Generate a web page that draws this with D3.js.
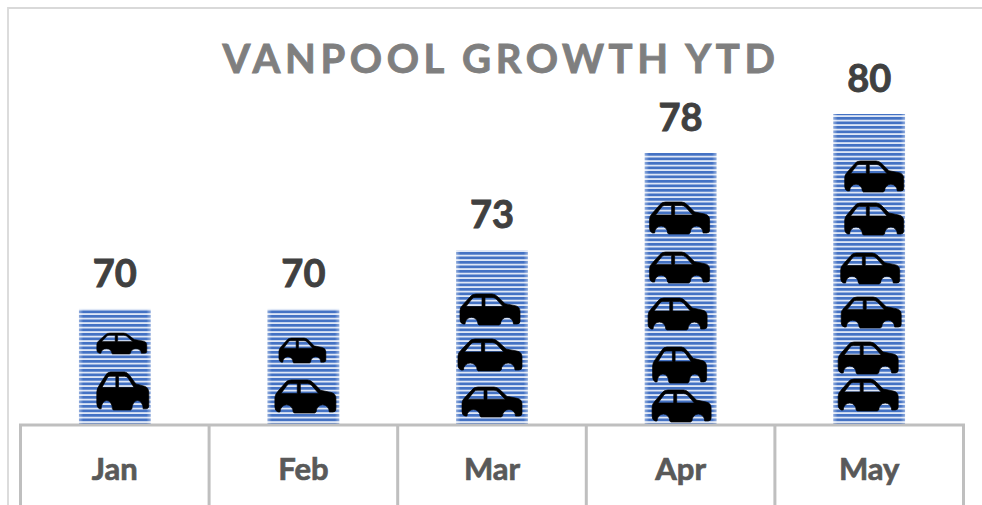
<!DOCTYPE html>
<html>
<head>
<meta charset="utf-8">
<script src="https://cdn.jsdelivr.net/npm/d3@7"></script>
<style>
    html, body { margin: 0; padding: 0; background: #fff; overflow: hidden; }
    text { font-family: Lato, "Open Sans", sans-serif; font-weight: 700; }
</style>
</head>
<body>
<div id="chart"></div>
<script>
const width = 982;
const height = 505;

const months = ["Jan", "Feb", "Mar", "Apr", "May"];
const vanpools = [70, 70, 73, 78, 80];
const chartTitle = "VANPOOL GROWTH YTD";

// the icons are pasted in by hand in the original, so they don't follow any rule:
// [offset from bar centre, offset of icon top above the baseline, icon width, icon height]
const carIcons = [
    [[7, 91, 50, 21], [8, 52, 52, 38]],
    [[-1, 86, 47, 25], [2, 44, 61, 33]],
    [[-2, 130, 60, 31], [-2, 85, 64, 32], [0, 37, 60, 30]],
    [[-1, 222, 60, 32], [-1, 172, 60, 31], [-3, 126, 59, 32], [-1, 77, 54, 36], [1, 34, 59, 32]],
    [[5, 263, 59, 31], [5, 221, 59, 32], [1, 171, 59, 31], [2, 127, 60, 31], [-1, 82, 60, 32], [-1, 45, 60, 32]]
];

const carPath = "M3,31 Q0,30 0,26 L0,17 Q0,14 3,11 L10,3 Q12,0 16,0 L32,0 Q35,0 38,3 L45,10 L55,12 Q60,13 60,18 " +
    "L60,28 Q60,31 57,31 L53.5,31 A6.5,7 0 0 0 40.5,31 L39,32 L19,32 L18,31 A6.5,7 0 0 0 5,31 Z " +
    "M6,13 L12,5 Q13,3.5 15,3.5 L22,3.5 L22,13 Z M25,3.5 L32,3.5 Q34,3.5 36,5 L43,13 L25,13 Z";

const svg = d3.select("#chart")
    .append("svg")
    .attr("width", width)
    .attr("height", height)
    .style("display", "block");

const baseline = 424;

const x = d3.scaleBand()
    .domain(months)
    .range([20.5, 963.5])
    .paddingInner(0.62)
    .paddingOuter(0.31);

const y = d3.scaleLinear()
    .domain([64.1, 80])
    .range([baseline, 114]);

const defs = svg.append("defs");

const stripes = defs.append("pattern")
    .attr("id", "stripes")
    .attr("patternUnits", "userSpaceOnUse")
    .attr("width", 10)
    .attr("height", 4.5);
stripes.append("rect").attr("width", 10).attr("height", 4.5).attr("fill", "#dfe7f6");
stripes.append("rect").attr("width", 10).attr("height", 2.7).attr("fill", "#4472c4");

// the bars fade a little at the left and right edges
const fade = defs.append("linearGradient").attr("id", "fade");
fade.append("stop").attr("offset", "0").attr("stop-color", "#fff").attr("stop-opacity", 0.4);
fade.append("stop").attr("offset", "0.06").attr("stop-color", "#fff").attr("stop-opacity", 0);
fade.append("stop").attr("offset", "0.94").attr("stop-color", "#fff").attr("stop-opacity", 0);
fade.append("stop").attr("offset", "1").attr("stop-color", "#fff").attr("stop-opacity", 0.4);

// outer chart frame, runs off the right and bottom of the picture
svg.append("path")
    .attr("d", `M8,${height} V8 H${width}`)
    .attr("fill", "none")
    .attr("stroke", "#d9d9d9")
    .attr("stroke-width", 1.8);

svg.append("text")
    .attr("x", 501)
    .attr("y", 73)
    .attr("text-anchor", "middle")
    .attr("fill", "#7f7f7f")
    .attr("stroke", "#7f7f7f")
    .attr("stroke-width", 0.9)
    .style("font-size", "40px")
    .style("letter-spacing", "4.6px")
    .text(chartTitle);

const bars = svg.selectAll(".bar")
    .data(months)
    .enter()
    .append("g")
    .attr("class", "bar");

bars.append("rect")
    .attr("x", d => x(d))
    .attr("y", (d, i) => y(vanpools[i]))
    .attr("width", x.bandwidth())
    .attr("height", (d, i) => baseline - y(vanpools[i]))
    .attr("fill", "url(#stripes)");

bars.append("rect")
    .attr("x", d => x(d))
    .attr("y", (d, i) => y(vanpools[i]))
    .attr("width", x.bandwidth())
    .attr("height", (d, i) => baseline - y(vanpools[i]))
    .attr("fill", "url(#fade)");

bars.selectAll(".car")
    .data((d, i) => carIcons[i].map(c => ({ month: d, icon: c })))
    .enter()
    .append("path")
    .attr("class", "car")
    .attr("d", carPath)
    .attr("fill", "#000")
    .attr("fill-rule", "evenodd")
    .attr("stroke", "#000")
    .attr("stroke-width", 0.7)
    .attr("transform", d => {
        const [dx, up, w, h] = d.icon;
        const left = x(d.month) + x.bandwidth() / 2 + dx - w / 2;
        return `translate(${left},${baseline - up}) scale(${w / 60},${h / 32})`;
    });

bars.append("text")
    .attr("x", d => x(d) + x.bandwidth() / 2)
    .attr("y", (d, i) => y(vanpools[i]) - 22)
    .attr("text-anchor", "middle")
    .attr("fill", "#404040")
    .attr("stroke", "#404040")
    .attr("stroke-width", 0.9)
    .style("font-size", "38px")
    .text((d, i) => vanpools[i]);

// category axis with the boxed separators
const axis = svg.append("g")
    .attr("transform", `translate(0,${baseline + 1})`)
    .call(d3.axisBottom(x).tickSize(0).tickPadding(0));

axis.select(".domain").remove();

axis.selectAll("text")
    .attr("y", 55)
    .attr("dy", 0)
    .attr("fill", "#595959")
    .attr("stroke", "#595959")
    .attr("stroke-width", 0.7)
    .style("font-family", "Lato, sans-serif")
    .style("font-size", "31px");

const edges = months.map(m => x(m) - x.step() * x.paddingOuter());
edges.push(x.range()[1]);

axis.append("path")
    .attr("d", `M${edges[0]},${height} V0 H${edges[edges.length - 1]} V${height}`)
    .attr("fill", "none")
    .attr("stroke", "#bfbfbf")
    .attr("stroke-width", 3);

axis.selectAll(".sep")
    .data(edges.slice(1, -1))
    .enter()
    .append("line")
    .attr("class", "sep")
    .attr("x1", d => d)
    .attr("x2", d => d)
    .attr("y1", 0)
    .attr("y2", height)
    .attr("stroke", "#bfbfbf")
    .attr("stroke-width", 3);
</script>
</body>
</html>
